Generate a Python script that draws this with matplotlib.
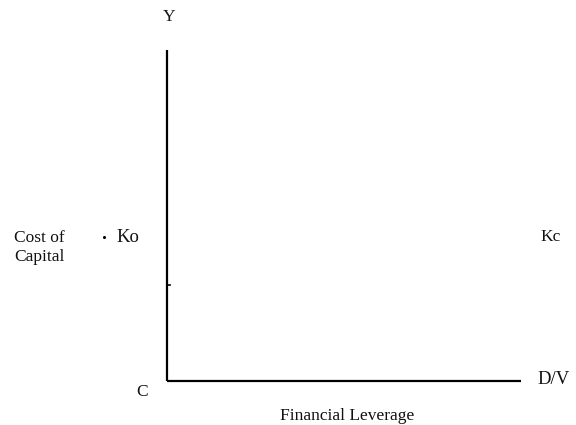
import matplotlib
matplotlib.use("Agg")
import matplotlib.pyplot as plt

# Diagram labels
axis_top_label = "Y"
y_label_lines = ["Cost of", "Capital"]
ko_label = "Ko"
ke_label = "Kc"
origin_label = "C"
x_end_label = "D/V"
x_label = "Financial Leverage"

W, H = 576, 425
fig = plt.figure(figsize=(W / 100, H / 100), dpi=100)
ax = fig.add_axes([0, 0, 1, 1])
ax.set_xlim(0, W)
ax.set_ylim(H, 0)
ax.axis("off")

font = dict(family=["Liberation Serif", "DejaVu Serif"], color="#111111")
fs = 12.5

# axes of the diagram
ax.plot([166.5, 166.5], [50, 381], color="black", lw=1.6, solid_capstyle="butt")
ax.plot([166.5, 521], [381, 381], color="black", lw=1.6, solid_capstyle="butt")
ax.plot([166.5, 170], [285, 285], color="black", lw=1.2)

ax.text(169, 17, axis_top_label, ha="center", va="center", fontsize=fs, **font)
ax.text(14, 238, y_label_lines[0], ha="left", va="center", fontsize=fs, **font)
ax.text(14, 257, y_label_lines[1], ha="left", va="center", fontsize=fs, **font)
ax.plot([104], [237], marker="o", ms=1.2, color="black")
ax.text(116, 237, ko_label, ha="left", va="center", fontsize=fs + 1, **font)
ax.text(540, 237, ke_label, ha="left", va="center", fontsize=fs, **font)
ax.text(142, 392, origin_label, ha="center", va="center", fontsize=fs, **font)
ax.text(537, 379, x_end_label, ha="left", va="center", fontsize=fs + 1, **font)
ax.text(347, 416, x_label, ha="center", va="center", fontsize=fs, **font)

fig.savefig("out.png", dpi=100)
